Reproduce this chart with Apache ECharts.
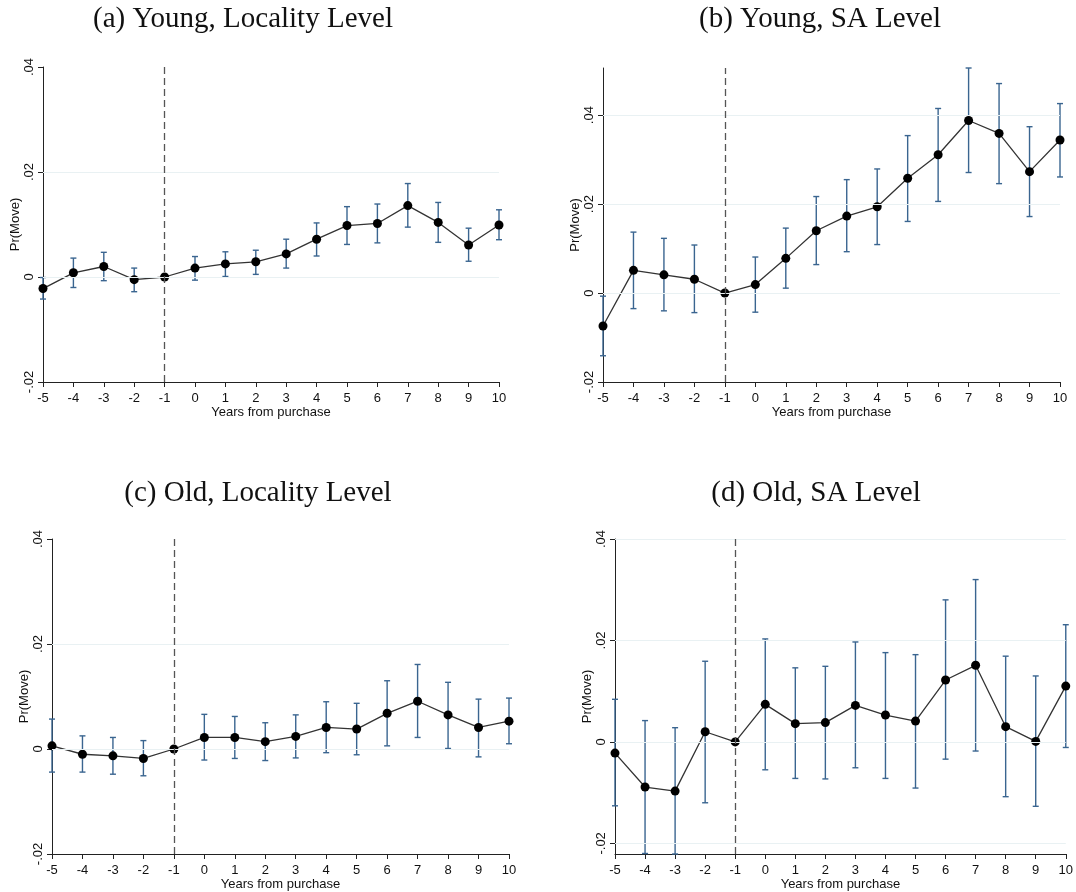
<!DOCTYPE html>
<html>
<head>
<meta charset="utf-8">
<script src="https://cdn.jsdelivr.net/npm/echarts@6/dist/echarts.min.js"></script>
<style>
html,body{margin:0;padding:0;background:#fff;}
#chart{width:1076px;height:892px;}
</style>
</head>
<body>
<div id="chart"></div>
<script>
// ---------- data ----------
const years = [-5,-4,-3,-2,-1,0,1,2,3,4,5,6,7,8,9,10];
const yTicks = [-0.02, 0, 0.02, 0.04];
const eventYear = -1;

const titles = ['(a) Young, Locality Level', '(b) Young, SA Level', '(c) Old, Locality Level', '(d) Old, SA Level'];
const xName = 'Years from purchase';
const yName = 'Pr(Move)';

// (a) Young, Locality Level
const aEst = [-0.0022, 0.0008, 0.0020, -0.0005, 0, 0.0017, 0.0025, 0.0029, 0.0044, 0.0072, 0.0098, 0.0102, 0.0136, 0.0104, 0.0061, 0.0099];
const aLo  = [-0.0042, -0.0020, -0.0007, -0.0028, null, -0.0006, 0.0001, 0.0005, 0.0017, 0.0040, 0.0062, 0.0065, 0.0095, 0.0066, 0.0030, 0.0071];
const aHi  = [-0.0001, 0.0036, 0.0047, 0.0017, null, 0.0039, 0.0048, 0.0051, 0.0072, 0.0103, 0.0134, 0.0139, 0.0178, 0.0142, 0.0093, 0.0128];

// (b) Young, SA Level
const bEst = [-0.0074, 0.0051, 0.0041, 0.0031, 0, 0.0019, 0.0078, 0.0140, 0.0173, 0.0194, 0.0258, 0.0311, 0.0388, 0.0359, 0.0273, 0.0344];
const bLo  = [-0.0141, -0.0035, -0.0040, -0.0044, null, -0.0043, 0.0011, 0.0064, 0.0093, 0.0109, 0.0161, 0.0206, 0.0271, 0.0246, 0.0172, 0.0261];
const bHi  = [-0.0007, 0.0137, 0.0123, 0.0108, null, 0.0081, 0.0146, 0.0217, 0.0255, 0.0279, 0.0354, 0.0415, 0.0506, 0.0471, 0.0374, 0.0426];

// (c) Old, Locality Level
const cEst = [0.0006, -0.0010, -0.0013, -0.0018, 0, 0.0022, 0.0022, 0.0014, 0.0024, 0.0041, 0.0038, 0.0068, 0.0091, 0.0065, 0.0041, 0.0053];
const cLo  = [-0.0044, -0.0044, -0.0048, -0.0051, null, -0.0021, -0.0018, -0.0022, -0.0017, -0.0007, -0.0011, 0.0006, 0.0022, 0.0001, -0.0015, 0.0010];
const cHi  = [0.0057, 0.0025, 0.0022, 0.0016, null, 0.0066, 0.0062, 0.0050, 0.0065, 0.0090, 0.0087, 0.0130, 0.0161, 0.0127, 0.0095, 0.0097];

// (d) Old, SA Level
const dEst = [-0.0022, -0.0089, -0.0097, 0.0020, 0, 0.0074, 0.0036, 0.0038, 0.0072, 0.0053, 0.0041, 0.0122, 0.0151, 0.0030, 0.0001, 0.0110];
const dLo  = [-0.0126, -0.0220, -0.0221, -0.0120, null, -0.0055, -0.0072, -0.0073, -0.0051, -0.0072, -0.0091, -0.0034, -0.0018, -0.0108, -0.0127, -0.0011];
const dHi  = [0.0084, 0.0042, 0.0028, 0.0159, null, 0.0203, 0.0146, 0.0149, 0.0197, 0.0176, 0.0172, 0.0280, 0.0320, 0.0169, 0.0130, 0.0231];

const yRanges = [[-0.02, 0.04], [-0.02, 0.0506], [-0.02, 0.04], [-0.0221, 0.04]];
const gridVals = [[0, 0.02], [0, 0.02, 0.04], [0, 0.02], [-0.02, 0, 0.02, 0.04]];

// ---------- layout ----------
const grids = [
  {left: 43, width: 456, top: 67, height: 315},
  {left: 603, width: 457, top: 68, height: 314},
  {left: 52, width: 457, top: 539, height: 315},
  {left: 615, width: 457, top: 539, height: 315}
];
const titlePos = [[243, 19], [820, 19], [258, 493], [816, 493]];

const panels = [
  {est: aEst, lo: aLo, hi: aHi},
  {est: bEst, lo: bLo, hi: bHi},
  {est: cEst, lo: cLo, hi: cHi},
  {est: dEst, lo: dLo, hi: dHi}
];

const axisColor = '#222';
const barColor = '#3a6590';
const sansFont = '"Liberation Sans", Arial, sans-serif';

function fmtY(v) {
  if (Math.abs(v) < 1e-9) return '0';
  const s = Math.abs(v).toFixed(2).replace(/^0/, '');
  return (v < 0 ? '-' : '') + s;
}

const option = {
  backgroundColor: '#fff',
  animation: false,
  grid: grids.map(g => Object.assign({containLabel: false}, g)),
  xAxis: grids.map((g, i) => ({
    gridIndex: i,
    type: 'value',
    min: -5, max: 10, interval: 1,
    name: xName,
    nameLocation: 'middle',
    nameGap: 24,
    nameTextStyle: {fontFamily: sansFont, fontSize: 13, color: '#111'},
    axisLine: {show: true, onZero: false, lineStyle: {color: axisColor, width: 1}},
    axisTick: {show: true, length: 5, lineStyle: {color: axisColor}},
    axisLabel: {fontFamily: sansFont, fontSize: 13, color: '#111', margin: 10, showMinLabel: true, showMaxLabel: true},
    splitLine: {show: false}
  })),
  yAxis: grids.map((g, i) => ({
    gridIndex: i,
    type: 'value',
    min: yRanges[i][0], max: yRanges[i][1],
    name: yName,
    nameLocation: 'middle',
    nameRotate: 90,
    nameGap: 18,
    nameTextStyle: {fontFamily: sansFont, fontSize: 13, color: '#111'},
    axisLine: {show: true, onZero: false, lineStyle: {color: axisColor, width: 1}},
    axisTick: {show: true, length: 5, lineStyle: {color: axisColor}, customValues: yTicks},
    axisLabel: {fontFamily: sansFont, fontSize: 13, color: '#111', rotate: 90, margin: 7, customValues: yTicks, formatter: fmtY},
    splitLine: {show: false}
  })),
  graphic: titles.map((t, i) => ({
    type: 'text',
    x: titlePos[i][0], y: titlePos[i][1],
    style: {
      text: t,
      font: '29px "Liberation Serif", "Times New Roman", serif',
      fill: '#111',
      textAlign: 'center',
      textVerticalAlign: 'middle'
    }
  })),
  series: []
};

panels.forEach((p, i) => {
  // grid lines + event line
  option.series.push({
    type: 'line',
    xAxisIndex: i, yAxisIndex: i,
    data: [],
    silent: true,
    markLine: {
      silent: true,
      symbol: ['none', 'none'],
      label: {show: false},
      animation: false,
      data: gridVals[i].map(v => ({yAxis: v, lineStyle: {color: '#e9f1f3', width: 1.2, type: 'solid'}}))
        .concat([{xAxis: eventYear, lineStyle: {color: '#555', width: 1.3, type: [7, 4]}}])
    },
    z: 1
  });
  // error bars
  option.series.push({
    type: 'custom',
    xAxisIndex: i, yAxisIndex: i,
    data: years.map((x, k) => [x, p.lo[k], p.hi[k]]),
    z: 2,
    renderItem: function (params, api) {
      const lo = api.value(1), hi = api.value(2);
      if (lo == null || hi == null || isNaN(lo) || isNaN(hi)) return null;
      const pLo = api.coord([api.value(0), lo]);
      const pHi = api.coord([api.value(0), hi]);
      const hw = 3;
      const st = {stroke: barColor, lineWidth: 1.4};
      return {
        type: 'group',
        children: [
          {type: 'line', shape: {x1: pLo[0], y1: pLo[1], x2: pHi[0], y2: pHi[1]}, style: st},
          {type: 'line', shape: {x1: pLo[0] - hw, y1: pLo[1], x2: pLo[0] + hw, y2: pLo[1]}, style: st},
          {type: 'line', shape: {x1: pHi[0] - hw, y1: pHi[1], x2: pHi[0] + hw, y2: pHi[1]}, style: st}
        ]
      };
    }
  });
  // point estimates
  option.series.push({
    type: 'line',
    xAxisIndex: i, yAxisIndex: i,
    data: years.map((x, k) => [x, p.est[k]]),
    symbol: 'circle',
    symbolSize: 9,
    itemStyle: {color: '#000'},
    lineStyle: {color: '#333', width: 1.3},
    z: 3
  });
});

const chart = echarts.init(document.getElementById('chart'), null, {renderer: 'canvas'});
chart.setOption(option);
</script>
</body>
</html>
